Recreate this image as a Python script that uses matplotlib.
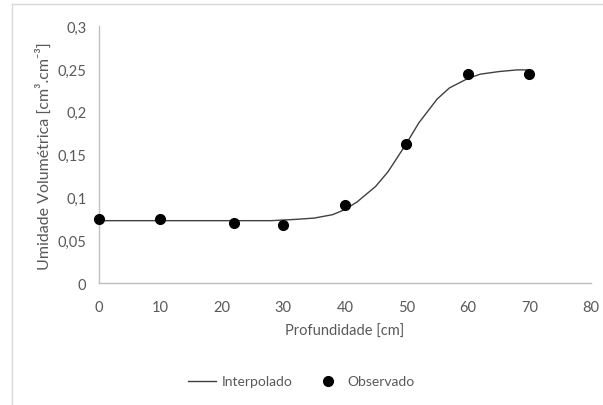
import matplotlib.pyplot as plt
from matplotlib.lines import Line2D
from matplotlib.ticker import FuncFormatter

# observed points
obs_depth = [0, 10, 22, 30, 40, 50, 60, 70]
obs_theta = [0.075, 0.075, 0.070, 0.068, 0.091, 0.163, 0.244, 0.244]

# interpolated curve
int_depth = [0, 10, 20, 28, 32, 35, 38, 40, 42, 45, 47, 50, 52, 55, 57, 60, 62, 65, 68, 70]
int_theta = [0.073, 0.073, 0.073, 0.073, 0.0745, 0.076, 0.080, 0.086, 0.095, 0.113,
             0.130, 0.163, 0.187, 0.215, 0.228, 0.239, 0.244, 0.247, 0.249, 0.249]

TXT = "#595959"
AX = "#bfbfbf"

plt.rcParams["font.family"] = ["Lato", "DejaVu Sans"]

fig = plt.figure(figsize=(6.03, 4.06), dpi=100)
ax = fig.add_axes([0.164, 0.300, 0.816, 0.633])

ax.plot(int_depth, int_theta, color="#404040", linewidth=1.0, label="Interpolado")
ax.plot(obs_depth, obs_theta, "o", color="black", markersize=7, label="Observado",
        clip_on=False, zorder=3)

ax.set_xlim(0, 80)
ax.set_ylim(0, 0.3)
ax.set_xticks(range(0, 81, 10))
ax.set_yticks([0, 0.05, 0.1, 0.15, 0.2, 0.25, 0.3])
ax.yaxis.set_major_formatter(FuncFormatter(lambda v, p: f"{v:g}".replace(".", ",")))

for s in ["top", "right"]:
    ax.spines[s].set_visible(False)
for s in ["left", "bottom"]:
    ax.spines[s].set_color(AX)
    ax.spines[s].set_linewidth(1.0)
ax.tick_params(length=0, colors=TXT, labelsize=10.5)
ax.tick_params(axis="x", pad=12)
ax.tick_params(axis="y", pad=9)

ax.set_xlabel("Profundidade [cm]", color=TXT, fontsize=10.5, labelpad=7)
ax.set_ylabel("Umidade Volumétrica [cm³.cm⁻³]", color=TXT, fontsize=11.5, labelpad=4)

leg = fig.legend(loc="center", bbox_to_anchor=(0.5, 0.058), ncol=2, frameon=False,
                 fontsize=10, handlelength=2.0, columnspacing=1.6, handletextpad=0.4)
for t in leg.get_texts():
    t.set_color(TXT)

# outer chart frame
fig.add_artist(Line2D([12 / 603, 1], [1 - 5 / 406, 1 - 5 / 406], color="#d9d9d9", linewidth=1))
fig.add_artist(Line2D([12 / 603, 12 / 603], [0, 1 - 5 / 406], color="#d9d9d9", linewidth=1))

fig.savefig("out.png", dpi=100)
